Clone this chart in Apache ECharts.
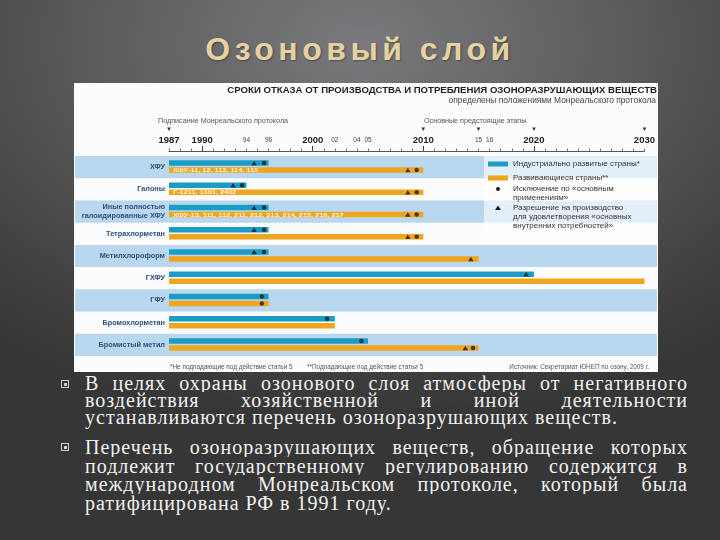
<!DOCTYPE html>
<html><head><meta charset="utf-8">
<script src="https://cdn.jsdelivr.net/npm/echarts@6/dist/echarts.min.js"></script>
<style>
html,body{margin:0;padding:0;}
body{width:720px;height:540px;overflow:hidden;position:relative;
 background:radial-gradient(ellipse 80% 70% at 50% 8%, #7a7a7e 0%, #606062 40%, #464647 75%, #363636 100%);}
#title{position:absolute;left:0;top:31px;width:720px;text-align:center;font-family:"Liberation Sans",Arial,sans-serif;
 font-weight:bold;font-size:32px;letter-spacing:4.5px;color:#e4d3a0;text-shadow:1px 1px 2px rgba(0,0,0,0.35);line-height:36px;}
#chart{position:absolute;left:74px;top:83px;width:584px;height:289px;}
.para{position:absolute;left:85px;width:603px;font-family:"Liberation Serif","Times New Roman",serif;font-size:20px;letter-spacing:1px;color:#f2f2f2;}
.ln{height:17px;line-height:17px;white-space:nowrap;}
.p2 .ln{height:18.5px;line-height:18.5px;}
.j{text-align:justify;text-align-last:justify;white-space:normal;overflow:hidden;}
.mk{position:absolute;left:-24px;top:5px;width:6px;height:6px;border:1px solid #cfcfcf;}
.mk::after{content:"";position:absolute;left:1.5px;top:1.5px;width:3px;height:3px;background:#cfcfcf;}
</style></head>
<body>
<div id="title">Озоновый слой</div>
<div id="chart"></div>
<div class="para" style="top:375px">
 <span class="mk"></span>
 <div class="ln j">В целях охраны озонового слоя атмосферы от негативного</div>
 <div class="ln j">воздействия хозяйственной и иной деятельности</div>
 <div class="ln">устанавливаются перечень озоноразрушающих веществ.</div>
</div>
<div class="para p2" style="top:438px">
 <span class="mk"></span>
 <div class="ln j">Перечень озоноразрушающих веществ, обращение которых</div>
 <div class="ln j">подлежит государственному регулированию содержится в</div>
 <div class="ln j">международном Монреальском протоколе, который была</div>
 <div class="ln">ратифицирована РФ в 1991 году.</div>
</div>
<script>
// ---- data ----
const rows = ['ХФУ','Галоны','Иные полностью\nгалоидированные ХФУ','Тетрахлорметан','Метилхлороформ','ГХФУ','ГФУ','Бромохлорметан','Бромистый метил'];
const startYear = 1987;
const developedEnd = [1996,1994,1996,1996,1996,2020,1996,2002,2005];
const developingEnd = [2010,2010,2010,2010,2015,2030,1996,2002,2015];
const developingNotes = ['ХФУ-11, 12, 113, 114, 115','Г-1211, 1301, 2402','ХФУ-13, 111, 112, 211, 212, 213, 214, 215, 216, 217','','','','','',''];
const developedCircle = [1995.6,1993.6,1995.6,1995.6,1995.6,null,1995.4,2001.3,2004.4];
const developedTriangle = [1994.7,1992.8,1994.7,1994.7,1994.7,2019.3,null,null,null];
const developingCircle = [2009.4,2009.4,2009.4,2009.4,null,null,1995.4,null,2014.5];
const developingTriangle = [2008.6,2008.6,2008.6,2008.6,2014.3,null,null,null,2013.8];
const majorYears = [1987,1990,2000,2010,2020,2030];
const minorYears = [1994,1996,2002,2004,2005,2015,2016];
const milestoneYears = [1987,2010,2015,2020,2030];
const decadeTicks = [1990,2000,2010,2020];

const CYAN = '#1b9cc4', ORANGE = '#f0a51e', BAND = '#b9d8ef';
const chart = echarts.init(document.getElementById('chart'));
const font = '"Liberation Sans", Arial, sans-serif';

function yearLabel(key) {
  return function (v) {
    const s = key === 'b' ? String(v) : String(v).slice(2);
    return milestoneYears.indexOf(v) >= 0 ? '{t|▼}\n{' + key + '|' + s + '}' : '{' + key + '|' + s + '}';
  };
}
const richCommon = { t: { fontSize: 6, color: '#333', lineHeight: 11, fontFamily: font } };

function bandItem(params, api) {
  const row = api.value(0);
  if (row % 2 !== 0) return null;
  const c = api.coord([startYear, row]);
  const h = api.size([0, 1])[1];
  return { type: 'rect', shape: { x: 1, y: c[1] - h / 2, width: api.getWidth() - 2, height: h }, style: { fill: BAND } };
}
function barItem(offset, color, withNote) {
  return function (params, api) {
    const row = api.value(0);
    const s = api.coord([api.value(1), row]);
    const e = api.coord([api.value(2), row]);
    const h = 5.5;
    const children = [{ type: 'rect', shape: { x: s[0], y: s[1] + offset - h / 2, width: e[0] - s[0], height: h }, style: { fill: color } }];
    if (withNote && developingNotes[row]) {
      children.push({ type: 'text', x: s[0] + 4, y: s[1] + offset + 0.3, scaleX: 1.22,
        style: { text: developingNotes[row], x: 0, y: 0, fill: '#fff6dc',
        fontSize: 6, fontWeight: 'bold', fontFamily: font, verticalAlign: 'middle' } });
    }
    return { type: 'group', children: children };
  };
}
function pts(arr) { const out = []; arr.forEach((v, i) => { if (v !== null) out.push([v, i]); }); return out; }
const OFF_DEV = -4, OFF_DEVING = 3;
const LZ = 100;

const option = {
  animation: false,
  backgroundColor: '#fbfcfd',
  grid: { left: 95, right: 12, top: 73, bottom: 16 },
  xAxis: [
    { type: 'value', min: 1987, max: 2030, interval: 1, position: 'top', offset: 5,
      axisLine: { show: true, lineStyle: { color: '#555', width: 1 } },
      axisTick: { show: true, length: 2.5, lineStyle: { color: '#555', width: 0.8 } },
      splitLine: { show: false },
      axisLabel: { show: true, customValues: minorYears, margin: 5, hideOverlap: false, formatter: yearLabel('s'),
        rich: Object.assign({ s: { fontSize: 6.5, color: '#444', lineHeight: 11, fontFamily: font } }, richCommon) } },
    { type: 'value', min: 1987, max: 2030, interval: 1, position: 'top', offset: 5,
      axisLine: { show: false },
      axisTick: { show: true, customValues: decadeTicks, length: 5, lineStyle: { color: '#444', width: 1 } },
      splitLine: { show: false },
      axisLabel: { show: true, customValues: majorYears, margin: 5, hideOverlap: false, formatter: yearLabel('b'),
        rich: Object.assign({ b: { fontSize: 9.5, fontWeight: 'bold', color: '#222', lineHeight: 11, fontFamily: font } }, richCommon) } }
  ],
  yAxis: { type: 'category', data: rows, inverse: true,
    axisLine: { show: false }, axisTick: { show: false }, splitLine: { show: false },
    axisLabel: { margin: 4, fontSize: 7.3, fontWeight: 'bold', color: '#2e4e7c', lineHeight: 9, fontFamily: font, align: 'right' } },
  graphic: [
    { type: 'text', right: 1, top: 2, style: { text: 'СРОКИ ОТКАЗА ОТ ПРОИЗВОДСТВА И ПОТРЕБЛЕНИЯ ОЗОНОРАЗРУШАЮЩИХ ВЕЩЕСТВ', fontSize: 9.6, fontWeight: 'bold', fill: '#1d1d1d', fontFamily: font } },
    { type: 'text', right: 2, top: 14, style: { text: 'определены положениями Монреальского протокола', fontSize: 8.4, fill: '#444', fontFamily: font } },
    { type: 'text', left: 84, top: 35, style: { text: 'Подписание Монреальского протокола', fontSize: 7.2, fill: '#555', fontFamily: font } },
    { type: 'text', left: 350, top: 35, style: { text: 'Основные предстоящие этапы', fontSize: 7.2, fill: '#555', fontFamily: font } },
    { type: 'rect', z: LZ, shape: { x: 410, y: 71, width: 173, height: 81 }, style: { fill: 'rgba(255,255,255,0.62)' } },
    { type: 'rect', z: LZ, shape: { x: 414, y: 78.5, width: 20, height: 5 }, style: { fill: CYAN } },
    { type: 'text', z: LZ, style: { x: 439, y: 81, text: 'Индустриально развитые страны*', fontSize: 8, fill: '#333', fontFamily: font, verticalAlign: 'middle' } },
    { type: 'rect', z: LZ, shape: { x: 414, y: 92.5, width: 20, height: 5 }, style: { fill: ORANGE } },
    { type: 'text', z: LZ, style: { x: 439, y: 95, text: 'Развивающиеся страны**', fontSize: 8, fill: '#333', fontFamily: font, verticalAlign: 'middle' } },
    { type: 'circle', z: LZ, shape: { cx: 424, cy: 106, r: 2 }, style: { fill: '#1c1c1c' } },
    { type: 'text', z: LZ, style: { x: 439, y: 101.5, text: 'Исключение по «основным\nприменениям»', fontSize: 8, lineHeight: 9, fill: '#333', fontFamily: font } },
    { type: 'polygon', z: LZ, shape: { points: [[424, 122.5], [421, 127], [427, 127]] }, style: { fill: '#1c1c1c' } },
    { type: 'text', z: LZ, style: { x: 439, y: 120.5, text: 'Разрешение на производство\nдля удовлетворения «основных\nвнутренних потребностей»', fontSize: 8, lineHeight: 9, fill: '#333', fontFamily: font } },
    { type: 'text', left: 96, bottom: 2, style: { text: '*Не подпадающие под действие статьи 5', fontSize: 6.4, fill: '#555', fontFamily: font } },
    { type: 'text', left: 233, bottom: 2, style: { text: '**Подпадающие под действие статьи 5', fontSize: 6.4, fill: '#555', fontFamily: font } },
    { type: 'text', right: 9, bottom: 2, style: { text: 'Источник: Секретариат ЮНЕП по озону, 2009 г.', fontSize: 6.4, fill: '#555', fontFamily: font } }
  ],
  series: [
    { type: 'custom', name: 'bands', z: 0, silent: true, renderItem: bandItem, encode: { x: 1, y: 0 },
      data: rows.map((r, i) => [i, startYear]), clip: false },
    { type: 'custom', name: 'Индустриально развитые страны*', z: 2, renderItem: barItem(OFF_DEV, CYAN, false), encode: { x: [1, 2], y: 0 },
      data: rows.map((r, i) => [i, startYear, developedEnd[i]]) },
    { type: 'custom', name: 'Развивающиеся страны**', z: 2, renderItem: barItem(OFF_DEVING, ORANGE, true), encode: { x: [1, 2], y: 0 },
      data: rows.map((r, i) => [i, startYear, developingEnd[i]]) },
    { type: 'scatter', z: 5, symbol: 'circle', symbolSize: 4.5, symbolOffset: [0, OFF_DEV], itemStyle: { color: '#1c1c1c' }, data: pts(developedCircle) },
    { type: 'scatter', z: 5, symbol: 'triangle', symbolSize: [5.5, 4.5], symbolOffset: [0, OFF_DEV], itemStyle: { color: '#1c1c1c' }, data: pts(developedTriangle) },
    { type: 'scatter', z: 5, symbol: 'circle', symbolSize: 4.5, symbolOffset: [0, OFF_DEVING], itemStyle: { color: '#1c1c1c' }, data: pts(developingCircle) },
    { type: 'scatter', z: 5, symbol: 'triangle', symbolSize: [5.5, 4.5], symbolOffset: [0, OFF_DEVING], itemStyle: { color: '#1c1c1c' }, data: pts(developingTriangle) }
  ]
};
chart.setOption(option);
</script>
</body></html>
